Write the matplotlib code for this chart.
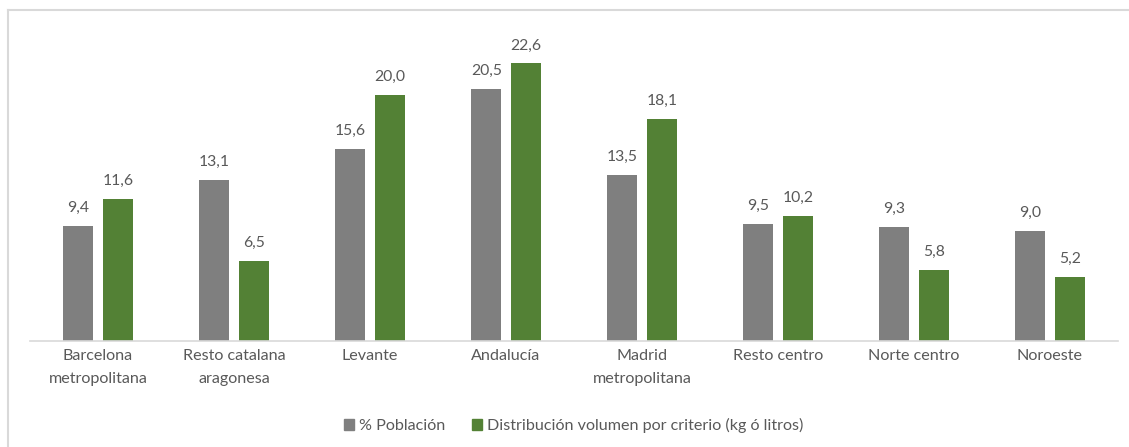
import matplotlib
matplotlib.use('Agg')
import matplotlib.pyplot as plt
from matplotlib.lines import Line2D
from matplotlib.patches import Patch
import numpy as np

# Data
categories = ["Barcelona\nmetropolitana", "Resto catalana\naragonesa", "Levante", "Andalucía",
              "Madrid\nmetropolitana", "Resto centro", "Norte centro", "Noroeste"]
poblacion = [9.4, 13.1, 15.6, 20.5, 13.5, 9.5, 9.3, 9.0]
distribucion = [11.6, 6.5, 20.0, 22.6, 18.1, 10.2, 5.8, 5.2]
series_names = ["% Población", "Distribución volumen por criterio (kg ó litros)"]

GREY = "#7f7f7f"
GREEN = "#538135"
TEXT = "#595959"

plt.rcParams['font.family'] = ['Lato', 'DejaVu Sans']

fig = plt.figure(figsize=(11.29, 4.47), dpi=100)
ax = fig.add_axes([0.0266, 0.237, 0.9636, 0.687])

x = np.arange(len(categories))
w = 0.22
off = 0.145
b1 = ax.bar(x - off, poblacion, w, color=GREY)
b2 = ax.bar(x + off, distribucion, w, color=GREEN)

for bars, vals in ((b1, poblacion), (b2, distribucion)):
    for bar, v in zip(bars, vals):
        ax.text(bar.get_x() + bar.get_width() / 2, v + 0.9, f"{v:.1f}".replace(".", ","),
                ha='center', va='bottom', fontsize=11.3, color=TEXT)

ax.set_xlim(-0.5, len(categories) - 0.5)
ax.set_ylim(0, 25)
ax.set_yticks([])
ax.set_xticks(x)
ax.set_xticklabels(categories, fontsize=11.6, color=TEXT, linespacing=1.75)
ax.tick_params(axis='x', length=0, pad=6)
for s in ['top', 'right', 'left']:
    ax.spines[s].set_visible(False)
ax.spines['bottom'].set_color('#d9d9d9')
ax.spines['bottom'].set_linewidth(1.2)

handles = [Patch(color=GREY, label=series_names[0]), Patch(color=GREEN, label=series_names[1])]
fig.legend(handles=handles, loc='center', bbox_to_anchor=(0.508, 0.048), ncol=2, frameon=False,
           fontsize=11.6, labelcolor=TEXT, handlelength=0.6, handleheight=0.6,
           handletextpad=0.3, columnspacing=1.7)

# outer chart border (top and left visible; right/bottom cut off in the original)
fig.add_artist(Line2D([8 / 1129, 1.0], [1 - 10 / 447, 1 - 10 / 447], color='#d9d9d9', lw=1.5,
                      transform=fig.transFigure))
fig.add_artist(Line2D([8 / 1129, 8 / 1129], [0.0, 1 - 10 / 447], color='#d9d9d9', lw=1.5,
                      transform=fig.transFigure))

fig.savefig("out.png", dpi=100)
